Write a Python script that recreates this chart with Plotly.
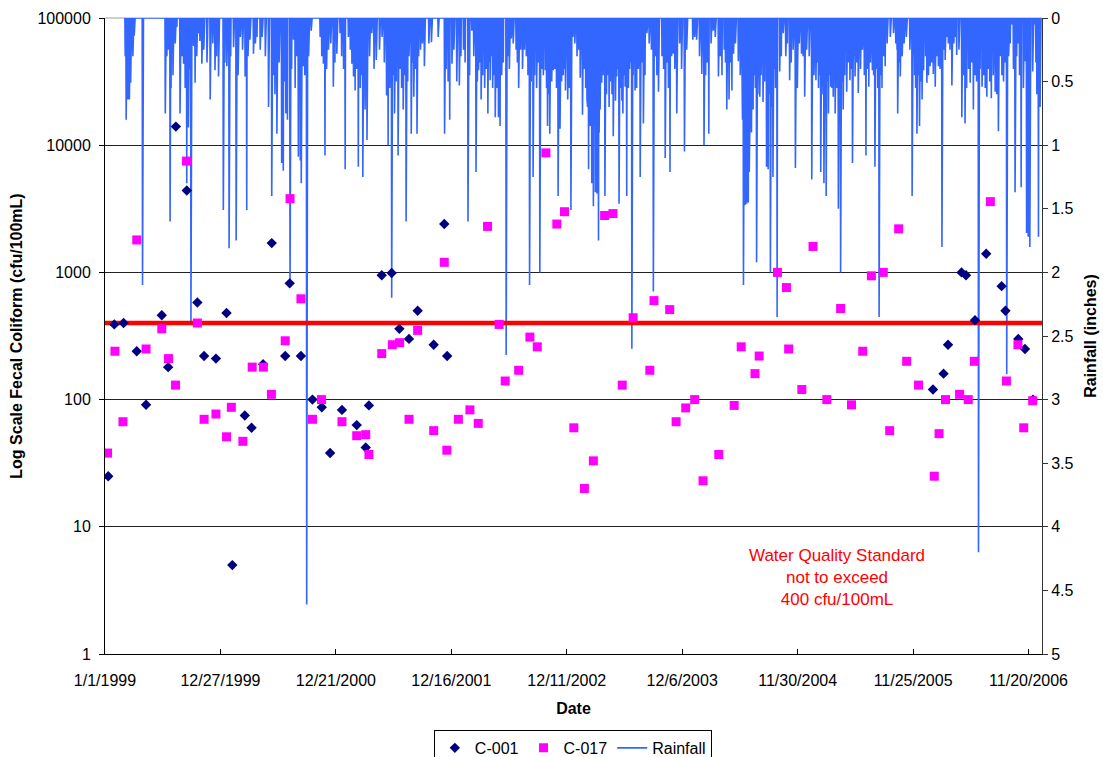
import pandas as pd
import plotly.graph_objects as go

# ---------------- data ----------------
c001_dates = [
    "1999-01-11", "1999-01-30", "1999-02-28", "1999-04-10", "1999-05-09", "1999-06-27",
    "1999-07-17", "1999-08-10", "1999-09-13", "1999-10-16", "1999-11-06", "1999-12-13",
    "2000-01-15", "2000-02-02", "2000-03-12", "2000-04-02", "2000-05-08", "2000-06-04",
    "2000-07-16", "2000-07-30", "2000-09-03", "2000-10-09", "2000-11-07", "2000-12-03",
    "2001-01-09", "2001-02-24", "2001-03-24", "2001-04-03", "2001-05-13", "2001-06-13",
    "2001-07-07", "2001-08-06", "2001-09-02", "2001-10-22", "2001-11-24", "2001-12-03",
    "2006-01-26", "2006-02-28", "2006-03-14", "2006-04-25", "2006-05-09", "2006-06-06",
    "2006-07-11", "2006-08-28", "2006-09-09", "2006-10-19", "2006-11-09", "2006-12-04",
]
c001_cfu = [
    25, 390, 400, 240, 91, 460,
    180, 14000, 4400, 580, 220, 210,
    480, 5, 75, 60, 190, 1700,
    220, 820, 220, 100, 87, 38,
    83, 63, 42, 90, 950, 990,
    360, 300, 500, 270, 2400, 220,
    120, 160, 270, 1000, 950, 420,
    1400, 780, 500, 300, 250, 100,
]

c017_dates = [
    "1999-01-09", "1999-02-01", "1999-02-26", "1999-04-10", "1999-05-09", "1999-06-27",
    "1999-07-18", "1999-08-09", "1999-09-12", "1999-10-16", "1999-11-06", "1999-12-13",
    "2000-01-15", "2000-01-30", "2000-03-06", "2000-04-04", "2000-05-09", "2000-06-03",
    "2000-07-16", "2000-07-31", "2000-09-03", "2000-10-09", "2000-11-06", "2001-01-09",
    "2001-02-24", "2001-03-24", "2001-04-03", "2001-05-13", "2001-06-15", "2001-07-08",
    "2001-08-06", "2001-09-02", "2001-10-22", "2001-11-24", "2001-12-02", "2002-01-07",
    "2002-02-12", "2002-03-10", "2002-04-08", "2002-05-14", "2002-06-02", "2002-07-14",
    "2002-08-18", "2002-09-10", "2002-10-07", "2002-11-10", "2002-12-04", "2003-01-02",
    "2003-02-04", "2003-03-04", "2003-04-08", "2003-05-04", "2003-06-02", "2003-07-06",
    "2003-08-27", "2003-09-09", "2003-10-28", "2003-11-17", "2003-12-17", "2004-01-14",
    "2004-02-09", "2004-03-29", "2004-05-16", "2004-06-07", "2004-07-20", "2004-08-02",
    "2004-09-28", "2004-10-26", "2004-11-02", "2004-12-13", "2005-01-17", "2005-03-01",
    "2005-04-13", "2005-05-17", "2005-06-21", "2005-07-18", "2005-08-24", "2005-09-13",
    "2005-10-11", "2005-11-05", "2005-12-12", "2006-01-30", "2006-02-14", "2006-03-06",
    "2006-04-19", "2006-05-16", "2006-06-04", "2006-07-24", "2006-09-12", "2006-10-18",
    "2006-11-05", "2006-12-03",
]
c017_cfu = [
    38, 240, 67, 1800, 250, 360,
    210, 130, 7500, 400, 70, 77,
    51, 87, 47, 180, 180, 110,
    290, 3800, 620, 70, 100, 67,
    52, 53, 37, 230, 270, 280,
    70, 350, 57, 1200, 40, 70,
    83, 65, 2300, 390, 140, 170,
    310, 260, 8700, 2400, 3000, 60,
    20, 33, 2800, 2900, 130, 440,
    170, 600, 510, 67, 86, 100,
    23, 37, 90, 260, 160, 220,
    1000, 760, 250, 120, 1600, 100,
    520, 91, 240, 940, 1000, 57,
    2200, 200, 130, 25, 54, 100,
    110, 100, 200, 3600, 140, 270,
    60, 98,
]

# larger daily rain events (tips of the visible spikes)
rain_dates = [
    "1999-03-05", "1999-03-08", "1999-03-13", "1999-03-18", "1999-03-22", "1999-03-29",
    "1999-04-02", "1999-04-28", "1999-07-08", "1999-07-10", "1999-07-13", "1999-07-23",
    "1999-07-26", "1999-08-13", "1999-08-23", "1999-09-03", "1999-09-13", "1999-09-18",
    "1999-09-26", "1999-10-09", "1999-10-19", "1999-10-30", "1999-11-25", "1999-12-10",
    "1999-12-21",
    "2000-01-05", "2000-01-16", "2000-01-23", "2000-02-06", "2000-02-14", "2000-02-27",
    "2000-03-13", "2000-03-18", "2000-03-28", "2000-04-08", "2000-04-19", "2000-04-29",
    "2000-05-25", "2000-06-04", "2000-06-20", "2000-07-05", "2000-07-10", "2000-07-18",
    "2000-07-23", "2000-07-31", "2000-08-11", "2000-08-26", "2000-09-01", "2000-09-04",
    "2000-09-11", "2000-09-21", "2000-11-02", "2000-11-07", "2000-11-12", "2000-11-17",
    "2000-12-13", "2000-12-24",
    "2001-01-03", "2001-01-19", "2001-01-29", "2001-02-09", "2001-02-14", "2001-02-19",
    "2001-03-01", "2001-03-15", "2001-03-22", "2001-03-28", "2001-04-12", "2001-04-26",
    "2001-05-14", "2001-05-28", "2001-06-02", "2001-06-13", "2001-06-22", "2001-07-03",
    "2001-07-19", "2001-07-28", "2001-08-06", "2001-08-13", "2001-08-21", "2001-08-31",
    "2001-09-11", "2001-09-23", "2001-10-07", "2001-10-15", "2001-11-25", "2001-12-11",
    "2001-12-18",
    "2002-01-02", "2002-01-10", "2002-01-23", "2002-02-06", "2002-02-18", "2002-03-03",
    "2002-03-11", "2002-03-19", "2002-03-30", "2002-04-09", "2002-04-16", "2002-04-24",
    "2002-05-02", "2002-05-12", "2002-05-17", "2002-06-05", "2002-06-21", "2002-07-06",
    "2002-07-14", "2002-08-01", "2002-08-17", "2002-08-28", "2002-09-18", "2002-10-05",
    "2002-10-12", "2002-10-19", "2002-10-30", "2002-11-14", "2002-11-20", "2002-12-07",
    "2002-12-14", "2002-12-24", "2002-12-30",
    "2003-01-22", "2003-01-29", "2003-02-12", "2003-02-17", "2003-02-22", "2003-02-27",
    "2003-03-04", "2003-03-10", "2003-03-15", "2003-03-20", "2003-03-25", "2003-03-30",
    "2003-04-09", "2003-04-22", "2003-05-05", "2003-05-16", "2003-05-23", "2003-06-04",
    "2003-06-11", "2003-06-16", "2003-07-02", "2003-07-12", "2003-07-28", "2003-08-07",
    "2003-08-18", "2003-09-07", "2003-09-23", "2003-10-14", "2003-10-29", "2003-11-08",
    "2003-11-19", "2003-12-13",
    "2004-01-08", "2004-01-20", "2004-02-05", "2004-02-12", "2004-02-27", "2004-03-18",
    "2004-03-28", "2004-04-08", "2004-04-23", "2004-04-30", "2004-05-09", "2004-05-14",
    "2004-05-29", "2004-06-09", "2004-06-14", "2004-06-19", "2004-06-24", "2004-06-29",
    "2004-07-02", "2004-07-04", "2004-07-09", "2004-07-14", "2004-07-25", "2004-08-04",
    "2004-08-14", "2004-08-25", "2004-08-30", "2004-09-06", "2004-09-14", "2004-09-27",
    "2004-10-05", "2004-10-16", "2004-10-24", "2004-11-05", "2004-11-23", "2004-11-29",
    "2004-12-12", "2004-12-22",
    "2005-01-13", "2005-01-26", "2005-02-03", "2005-02-10", "2005-02-20", "2005-02-27",
    "2005-03-06", "2005-03-13", "2005-03-21", "2005-03-27", "2005-04-06", "2005-04-13",
    "2005-04-21", "2005-05-02", "2005-05-12", "2005-05-20", "2005-05-28", "2005-06-07",
    "2005-07-01", "2005-07-10", "2005-07-21", "2005-07-29", "2005-08-11", "2005-08-20",
    "2005-08-30", "2005-09-25", "2005-10-06", "2005-10-08", "2005-10-16", "2005-11-22",
    "2005-11-27", "2005-12-07", "2005-12-15", "2005-12-23", "2005-12-28",
    "2006-01-07", "2006-01-17", "2006-01-27", "2006-02-02", "2006-02-12", "2006-02-23",
    "2006-03-05", "2006-03-10", "2006-03-26", "2006-04-10", "2006-04-26", "2006-05-06",
    "2006-05-22", "2006-06-01", "2006-06-17", "2006-06-28", "2006-07-13", "2006-07-27",
    "2006-08-08", "2006-08-18", "2006-08-24", "2006-09-13", "2006-09-29", "2006-10-09",
    "2006-10-19", "2006-10-28", "2006-11-09", "2006-11-14", "2006-11-19", "2006-11-24",
    "2006-12-03", "2006-12-08", "2006-12-21", "2006-12-26",
]
rain_in = [
    0.30, 0.80, 0.64, 0.64, 0.51, 0.30,
    0.14, 2.10, 0.75, 0.16, 0.30, 1.60,
    0.55, 0.07, 0.75, 0.36, 1.30, 0.86,
    2.40, 0.51, 0.12, 0.36, 0.64, 0.41,
    0.46,
    1.51, 0.38, 1.81, 0.23, 1.75, 0.15,
    0.46, 1.51, 0.17, 0.28, 0.15, 0.25,
    0.70, 1.40, 0.91, 1.14, 1.20, 0.75,
    0.80, 2.09, 0.17, 1.09, 1.12, 1.30,
    0.38, 4.61, 0.15, 0.30, 0.36, 1.08,
    0.54, 0.28,
    0.12, 1.19, 0.15, 0.36, 0.46, 0.57,
    1.17, 1.25, 0.72, 0.96, 0.12, 0.33,
    0.15, 0.61, 1.00, 2.20, 0.75, 1.08,
    0.72, 1.60, 0.30, 0.91, 0.62, 0.91,
    0.25, 0.38, 0.20, 0.19, 0.91, 0.80,
    0.36,
    0.50, 0.53, 0.25, 1.60, 0.10, 1.21,
    0.41, 0.64, 0.55, 0.75, 0.49, 0.55,
    0.78, 0.78, 0.85, 2.65, 0.16, 0.25,
    0.55, 0.25, 2.10, 1.25, 2.00, 0.41,
    0.85, 0.91, 0.41, 1.40, 0.87, 0.57,
    0.64, 1.51, 0.15,
    0.47, 0.76, 0.64, 1.19, 0.85, 1.30,
    1.48, 1.37, 1.38, 1.75, 0.72, 0.51,
    1.40, 0.70, 0.93, 0.46, 1.46, 0.75,
    0.54, 1.40, 2.60, 0.57, 1.25, 0.83,
    0.12, 2.15, 0.58, 1.10, 1.21, 0.28,
    0.75, 1.05,
    0.17, 0.17, 0.44, 1.00, 0.91, 0.15,
    0.46, 0.45, 0.72, 0.64, 0.57, 0.28,
    0.34, 0.64, 2.10, 1.47, 1.46, 1.45,
    1.21, 0.83, 0.90, 0.72, 1.92, 0.62,
    0.66, 1.17, 1.19, 2.00, 1.25, 2.35,
    0.42, 0.12, 0.30, 0.49, 1.18, 0.55,
    0.28, 0.62,
    1.27, 0.49, 0.55, 1.21, 1.30, 1.40,
    0.75, 0.54, 0.62, 0.75, 1.50, 2.00,
    0.72, 0.58, 0.49, 1.14, 0.46, 0.59,
    1.08, 0.54, 0.41, 1.17, 2.35, 0.55,
    0.38, 0.12, 0.25, 0.75, 0.46, 1.40,
    0.29, 0.91, 0.85, 0.64, 0.41,
    0.51, 0.38, 0.44, 0.54, 0.38, 1.80,
    0.33, 0.15, 0.53, 0.29, 0.78, 0.83,
    0.51, 0.72, 4.20, 0.54, 0.62, 0.63,
    0.58, 0.89, 0.30, 2.80, 0.05, 1.37,
    0.20, 1.33, 0.34, 1.69, 1.72, 1.80,
    0.42, 0.05, 1.72, 0.70,
]

# smaller daily rain events filling the dense clusters near the top
rain_minor_dates = [
    "1999-07-17", "1999-08-01", "1999-08-08", "1999-08-29", "1999-09-08", "1999-09-22",
    "1999-10-04", "1999-10-14", "1999-10-24", "1999-11-05", "1999-11-15", "1999-12-03",
    "1999-12-15",
    "2000-01-10", "2000-01-28", "2000-02-20", "2000-03-05", "2000-03-22", "2000-04-14",
    "2000-05-05", "2000-05-15", "2000-06-10", "2000-06-14", "2000-06-27", "2000-07-14",
    "2000-08-05", "2000-08-16", "2000-08-21", "2000-09-15", "2000-09-27", "2000-10-05",
    "2000-11-22", "2000-11-28", "2000-12-05", "2000-12-18",
    "2001-01-08", "2001-01-14", "2001-02-04", "2001-02-24", "2001-03-07", "2001-03-11",
    "2001-04-05", "2001-04-19", "2001-05-06", "2001-05-21", "2001-06-07", "2001-06-18",
    "2001-06-27", "2001-07-09", "2001-07-14", "2001-07-24", "2001-08-02", "2001-08-17",
    "2001-08-26", "2001-09-05", "2001-09-17", "2001-11-05", "2001-11-30", "2001-12-06",
    "2001-12-24",
    "2002-01-15", "2002-01-28", "2002-02-11", "2002-02-24", "2002-03-07", "2002-03-15",
    "2002-03-24", "2002-04-04", "2002-04-12", "2002-04-20", "2002-04-28", "2002-05-07",
    "2002-05-22", "2002-05-27", "2002-06-10", "2002-06-15", "2002-06-27", "2002-07-10",
    "2002-07-20", "2002-07-26", "2002-08-07", "2002-08-12", "2002-08-22", "2002-09-02",
    "2002-09-08", "2002-09-13", "2002-09-24", "2002-09-29", "2002-10-09", "2002-10-15",
    "2002-10-25", "2002-11-04", "2002-11-09", "2002-11-25", "2002-11-30", "2002-12-03",
    "2002-12-19",
    "2003-01-05", "2003-01-12", "2003-01-17", "2003-02-04", "2003-02-08", "2003-02-14",
    "2003-02-20", "2003-02-25", "2003-03-01", "2003-03-07", "2003-03-12", "2003-03-17",
    "2003-03-22", "2003-03-27", "2003-04-03", "2003-04-14", "2003-04-17", "2003-04-27",
    "2003-05-01", "2003-05-09", "2003-05-12", "2003-05-19", "2003-05-28", "2003-06-01",
    "2003-06-07", "2003-06-21", "2003-06-25", "2003-06-28", "2003-07-06", "2003-07-17",
    "2003-07-22", "2003-08-02", "2003-08-12", "2003-08-25", "2003-09-01", "2003-09-13",
    "2003-09-18", "2003-10-04", "2003-10-09", "2003-10-20", "2003-10-24", "2003-11-03",
    "2003-11-13", "2003-11-28", "2003-12-04", "2003-12-20",
    "2004-01-14", "2004-01-29", "2004-02-17", "2004-02-22", "2004-03-05", "2004-03-12",
    "2004-04-03", "2004-04-15", "2004-04-19", "2004-05-04", "2004-05-20", "2004-06-04",
    "2004-06-11", "2004-06-16", "2004-06-21", "2004-06-26", "2004-07-07", "2004-07-12",
    "2004-07-18", "2004-07-21", "2004-07-29", "2004-08-08", "2004-08-11", "2004-08-19",
    "2004-09-02", "2004-09-10", "2004-09-18", "2004-09-22", "2004-10-10", "2004-10-29",
    "2004-11-10", "2004-11-16", "2004-12-05", "2004-12-17", "2004-12-28",
    "2005-01-05", "2005-01-20", "2005-01-30", "2005-02-06", "2005-02-14", "2005-02-24",
    "2005-03-02", "2005-03-09", "2005-03-17", "2005-03-31", "2005-04-02", "2005-04-10",
    "2005-04-17", "2005-04-26", "2005-05-07", "2005-05-16", "2005-05-24", "2005-06-02",
    "2005-06-14", "2005-06-20", "2005-06-26", "2005-07-05", "2005-07-15", "2005-07-25",
    "2005-08-03", "2005-08-07", "2005-08-15", "2005-08-25", "2005-09-05", "2005-09-15",
    "2005-10-02", "2005-10-12", "2005-10-22", "2005-10-28", "2005-11-04", "2005-11-15",
    "2005-11-30", "2005-12-03", "2005-12-11", "2005-12-19",
    "2006-01-03", "2006-01-12", "2006-01-22", "2006-02-07", "2006-02-17", "2006-02-28",
    "2006-03-15", "2006-03-20", "2006-04-01", "2006-04-05", "2006-04-17", "2006-05-01",
    "2006-05-11", "2006-05-17", "2006-05-27", "2006-06-06", "2006-06-11", "2006-06-22",
    "2006-07-03", "2006-07-08", "2006-07-18", "2006-07-22", "2006-08-02", "2006-08-13",
    "2006-08-29", "2006-09-03", "2006-09-08", "2006-09-19", "2006-09-24", "2006-10-04",
    "2006-10-14", "2006-10-23", "2006-11-04", "2006-12-13", "2006-12-16",
]
rain_minor_in = [
    0.25, 0.45, 0.20, 0.30, 0.55, 0.40,
    0.22, 0.30, 0.18, 0.25, 0.35, 0.20,
    0.30,
    0.35, 0.30, 0.45, 0.25, 0.30, 0.20,
    0.15, 0.30, 0.45, 0.60, 0.35, 0.50,
    0.40, 0.55, 0.30, 0.45, 0.30, 0.10,
    0.40, 0.25, 0.20, 0.35,
    0.30, 0.40, 0.25, 0.40, 0.55, 0.45,
    0.30, 0.40, 0.25, 0.35, 0.55, 0.45,
    0.50, 0.40, 0.55, 0.45, 0.50, 0.35,
    0.40, 0.30, 0.20, 0.15, 0.40, 0.50,
    0.25,
    0.30, 0.35, 0.45, 0.30, 0.50, 0.35,
    0.45, 0.40, 0.35, 0.30, 0.45, 0.55,
    0.45, 0.35, 0.30, 0.40, 0.20, 0.35,
    0.25, 0.40, 0.30, 0.45, 0.50, 0.45,
    0.55, 0.35, 0.40, 0.45, 0.55, 0.60,
    0.50, 0.40, 0.55, 0.50, 0.45, 0.40,
    0.55,
    0.20, 0.30, 0.25, 0.40, 0.55, 0.70,
    0.60, 0.75, 0.90, 0.85, 0.95, 0.80,
    0.90, 0.55, 0.45, 0.60, 0.45, 0.50,
    0.60, 0.45, 0.65, 0.40, 0.55, 0.65,
    0.45, 0.55, 0.40, 0.35, 0.45, 0.55,
    0.40, 0.35, 0.45, 0.20, 0.25, 0.30,
    0.45, 0.30, 0.40, 0.35, 0.55, 0.30,
    0.40, 0.20, 0.40, 0.25,
    0.15, 0.30, 0.45, 0.35, 0.20, 0.10,
    0.30, 0.25, 0.35, 0.35, 0.20, 0.45,
    0.80, 1.10, 1.20, 1.00, 0.60, 0.55,
    0.45, 0.55, 0.60, 0.45, 0.35, 0.50,
    0.60, 0.70, 0.40, 0.55, 0.30, 0.20,
    0.35, 0.25, 0.20, 0.30, 0.25,
    0.30, 0.45, 0.35, 0.45, 0.60, 0.65,
    0.50, 0.45, 0.55, 0.45, 0.55, 0.60,
    0.50, 0.45, 0.35, 0.40, 0.30, 0.35,
    0.40, 0.25, 0.45, 0.40, 0.35, 0.45,
    0.40, 0.55, 0.45, 0.30, 0.20, 0.15,
    0.20, 0.35, 0.30, 0.20, 0.15, 0.25,
    0.45, 0.55, 0.45, 0.50,
    0.30, 0.45, 0.35, 0.30, 0.40, 0.25,
    0.20, 0.25, 0.20, 0.15, 0.25, 0.45,
    0.55, 0.40, 0.35, 0.45, 0.50, 0.40,
    0.45, 0.55, 0.40, 0.50, 0.45, 0.60,
    0.45, 0.50, 0.35, 0.30, 0.20, 0.40,
    0.30, 0.45, 0.55, 0.35, 0.60,
]
rain_record_start = "1999-03-01"
rain_record_end = "2006-12-31"

standard_cfu = 400
x_start, x_end = "1999-01-01", "2007-01-01"
x_tick_dates = ["1999-01-01", "1999-12-27", "2000-12-21", "2001-12-16", "2002-12-11",
                "2003-12-06", "2004-11-30", "2005-11-25", "2006-11-20"]
x_tick_labels = ["1/1/1999", "12/27/1999", "12/21/2000", "12/16/2001", "12/11/2002",
                 "12/6/2003", "11/30/2004", "11/25/2005", "11/20/2006"]
cfu_ticks = [1, 10, 100, 1000, 10000, 100000]
cfu_tick_labels = ["1", "10", "100", "1000", "10000", "100000"]
rain_ticks = [0, 0.5, 1, 1.5, 2, 2.5, 3, 3.5, 4, 4.5, 5]

# daily rainfall record (days without rain are 0)
rain = pd.concat([
    pd.Series(rain_in, index=pd.to_datetime(rain_dates)),
    pd.Series(rain_minor_in, index=pd.to_datetime(rain_minor_dates)),
]).groupby(level=0).max()
daily = rain.reindex(pd.date_range(rain_record_start, rain_record_end, freq="D"), fill_value=0.0)

FONT = "Liberation Sans, Arial, Helvetica, sans-serif"

fig = go.Figure()
fig.add_trace(go.Scatter(
    x=daily.index, y=daily.values, name="Rainfall", mode="lines",
    line=dict(color="#3366FF", width=1.6), yaxis="y", legendrank=3,
    hoverinfo="skip",
))
fig.add_trace(go.Scatter(
    x=[x_start, x_end], y=[standard_cfu, standard_cfu], mode="lines",
    line=dict(color="#FF0000", width=4.5), yaxis="y2", showlegend=False,
    hoverinfo="skip",
))
fig.add_trace(go.Scatter(
    x=pd.to_datetime(c001_dates), y=c001_cfu, name="C-001", mode="markers",
    marker=dict(symbol="diamond", size=8, color="#000080"), yaxis="y2", legendrank=1,
))
fig.add_trace(go.Scatter(
    x=pd.to_datetime(c017_dates), y=c017_cfu, name="C-017", mode="markers",
    marker=dict(symbol="square", size=9, color="#FF00FF"), yaxis="y2", legendrank=2,
))

fig.update_layout(
    width=1103, height=757,
    margin=dict(l=105, r=61, t=18, b=103, autoexpand=False),
    paper_bgcolor="white", plot_bgcolor="white",
    font=dict(family=FONT, size=16, color="black"),
    showlegend=True,
    legend=dict(
        orientation="h", x=0.4993, xanchor="center", y=-0.1194, yanchor="top",
        bordercolor="black", borderwidth=1, bgcolor="white",
        font=dict(family=FONT, size=16, color="black"),
    ),
    xaxis=dict(
        type="date", range=[x_start, x_end],
        tickvals=x_tick_dates, ticktext=x_tick_labels,
        ticks="inside", ticklen=5, tickcolor="black",
        showline=True, linecolor="black", linewidth=1,
        showgrid=False, zeroline=False,
        tickfont=dict(size=16), ticklabelstandoff=12,
        title=dict(text="<b>Date</b>", font=dict(size=16), standoff=14),
        anchor="y",
    ),
    yaxis=dict(
        side="right", range=[5, 0],
        tickvals=rain_ticks,
        ticks="outside", ticklen=5, tickcolor="#333333",
        showline=True, linecolor="#333333", linewidth=1,
        showgrid=False, zeroline=False,
        tickfont=dict(size=16),
        title=dict(text="<b>Rainfall (inches)</b>", font=dict(size=16), standoff=12),
    ),
    yaxis2=dict(
        overlaying="y", side="left", type="log", range=[0, 5],
        tickvals=cfu_ticks, ticktext=cfu_tick_labels,
        ticks="outside", ticklen=5, tickcolor="black",
        showline=True, linecolor="black", linewidth=1,
        showgrid=True, gridcolor="#222222", gridwidth=1, zeroline=False,
        tickfont=dict(size=16), ticklabelstandoff=5,
        title=dict(text="<b>Log Scale Fecal Coliform (cfu/100mL)</b>", font=dict(size=16), standoff=10),
    ),
    shapes=[dict(type="line", xref="paper", yref="paper", x0=0, x1=1, y0=1, y1=1,
                 line=dict(color="#A0A0A0", width=1), layer="below")],
    annotations=[dict(
        text="Water Quality Standard<br>not to exceed<br>400 cfu/100mL",
        xref="paper", yref="paper", x=0.7815, y=0.121,
        xanchor="center", yanchor="middle", showarrow=False,
        font=dict(family=FONT, size=17, color="#FF0000"), align="center",
    )],
)

fig.write_html("out.html")
